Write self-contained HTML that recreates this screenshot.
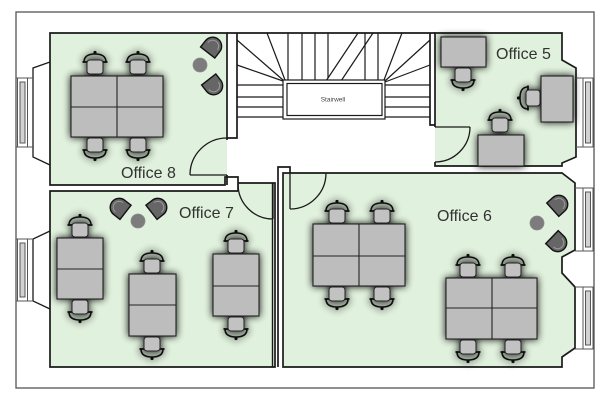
<!DOCTYPE html>
<html>
<head>
<meta charset="utf-8">
<style>
html,body{margin:0;padding:0;background:#fff;}
svg{display:block;}
text{font-family:"Liberation Sans",Arial,sans-serif;}
</style>
</head>
<body>
<svg width="614" height="400" viewBox="0 0 614 400" xmlns="http://www.w3.org/2000/svg">
<defs>
<filter id="sh" x="-40%" y="-40%" width="180%" height="180%">
<feGaussianBlur in="SourceAlpha" stdDeviation="4"/>
<feComponentTransfer><feFuncA type="linear" slope="0.95"/></feComponentTransfer>
<feMerge><feMergeNode/><feMergeNode in="SourceGraphic"/></feMerge>
</filter>
<g id="ch">
<path d="M-11,-3 Q-11,-11 0,-11 Q11,-11 11,-3" fill="none" stroke="#111" stroke-width="1.6"/>
<line x1="-12.5" y1="-3" x2="-8" y2="-3" stroke="#111" stroke-width="1.8"/>
<line x1="8" y1="-3" x2="12.5" y2="-3" stroke="#111" stroke-width="1.8"/>
<circle cx="0" cy="-12.5" r="1.6" fill="#111"/>
<rect x="-8" y="-5" width="16" height="14" rx="3" fill="#c2c2c2" stroke="#222" stroke-width="1"/>
</g>
<g id="lc">
<path d="M-9,7 L-9,-1 A9,9 0 0 1 9,-1 L9,7 Z" fill="#666" stroke="#111" stroke-width="1.4"/>
<path d="M-6,-1 A6,6 0 0 1 6,-1" fill="none" stroke="#9a9a9a" stroke-width="1"/>
</g>
</defs>

<!-- outer building -->
<rect x="16" y="12" width="578" height="376" fill="#fff" stroke="#555" stroke-width="1.3"/>

<!-- room fills -->
<g fill="#e0f1dd" stroke="none">
<rect x="50" y="33" width="177" height="152"/>
<polygon points="50,191 238,191 238,183 275,183 275,367 50,367"/>
<polygon points="435,33 562,33 562,60 576,68 576,157 562,163 562,166 435,166"/>
<polygon points="283,367 283,173 562,173 575,183 575,250 562,257 562,273 575,287 575,348 562,357 562,367"/>
</g>

<!-- walls -->
<g fill="none" stroke="#1a1a1a" stroke-width="1.7" stroke-linejoin="miter">
<path d="M227,140 V33 H50 V185 H225 V177 H238 V191"/>
<path d="M227,175 V185"/>
<path d="M227,33 H435"/>
<path d="M237,33 V138 H227"/>
<path d="M430,33 V125 H435"/>
<path d="M435,127 V33 H562 V60 L576,68 V157 L562,163 V166 H435 V162"/>
<path d="M238,191 H50 V367 H275 V183 H238"/>
<path d="M272.5,183 V367" stroke-width="1.4"/>
<path d="M278,367 V167 H290 V173"/>
<path d="M283,367 V173 H562 L575,183 V250 L562,257 V273 L575,287 V348 L562,357 V367 Z"/>
<path d="M50,62 L33,68 V157 L50,165" stroke-width="1.3"/>
<path d="M50,231 L33,239 V301 L50,309" stroke-width="1.3"/>
</g>

<!-- windows -->
<g stroke="#555" stroke-width="1">
<line x1="16" y1="78" x2="33" y2="78"/><line x1="16" y1="147" x2="33" y2="147"/>
<line x1="16" y1="239" x2="33" y2="239"/><line x1="16" y1="301" x2="33" y2="301"/>
<line x1="576" y1="78" x2="594" y2="78"/><line x1="576" y1="147" x2="594" y2="147"/>
<line x1="575" y1="188" x2="594" y2="188"/><line x1="575" y1="251" x2="594" y2="251"/>
<line x1="575" y1="287" x2="594" y2="287"/><line x1="575" y1="349" x2="594" y2="349"/>
<g fill="#fff">
<rect x="17.5" y="78" width="10" height="69"/>
<rect x="17.5" y="239" width="10" height="62"/>
<rect x="583" y="78" width="10" height="69"/>
<rect x="583" y="188" width="10" height="63"/>
<rect x="583" y="287" width="10" height="62"/>
</g>
<g fill="#d2d2d2">
<rect x="20" y="82" width="5" height="61"/>
<rect x="20" y="243" width="5" height="54"/>
<rect x="585.5" y="82" width="5" height="61"/>
<rect x="585.5" y="192" width="5" height="55"/>
<rect x="585.5" y="291" width="5" height="54"/>
</g>
</g>

<!-- doors -->
<g fill="none" stroke="#1a1a1a" stroke-width="1.3">
<path d="M227,175 H190"/><path d="M190,175 A37,37 0 0 1 227,138"/>
<path d="M273,184 V219"/><path d="M238,184 A35,35 0 0 0 273,219"/>
<path d="M435,127 H470"/><path d="M470,127 A35,35 0 0 1 435,162"/>
<path d="M290,173 V209"/><path d="M290,209 A36,36 0 0 0 326,173"/>
</g>

<!-- stairwell -->
<g fill="none" stroke="#1a1a1a" stroke-width="1.2">
<line x1="237" y1="85" x2="283" y2="85"/>
<line x1="237" y1="97" x2="283" y2="97"/>
<line x1="237" y1="107" x2="283" y2="107"/>
<line x1="237" y1="117" x2="283" y2="117"/>
<line x1="385" y1="85" x2="430" y2="85"/>
<line x1="385" y1="97" x2="430" y2="97"/>
<line x1="385" y1="107" x2="430" y2="107"/>
<line x1="385" y1="117" x2="430" y2="117"/>
<line x1="237" y1="40" x2="283" y2="80"/>
<line x1="237" y1="65" x2="283" y2="81"/>
<line x1="267" y1="33" x2="285" y2="80"/>
<line x1="288" y1="33" x2="288" y2="80"/>
<line x1="302" y1="33" x2="302" y2="80"/>
<line x1="315" y1="33" x2="315" y2="80"/>
<line x1="328" y1="33" x2="328" y2="78"/>
<line x1="358" y1="33" x2="326" y2="81"/>
<line x1="373" y1="33" x2="339" y2="84"/>
<line x1="365" y1="33" x2="365" y2="80"/>
<line x1="378" y1="33" x2="378" y2="80"/>
<line x1="402" y1="33" x2="384" y2="80"/>
<line x1="430" y1="40" x2="385" y2="81"/>
<line x1="430" y1="65" x2="385" y2="82"/>
<rect x="283" y="80" width="102" height="39" fill="#fff"/>
<rect x="287" y="83.5" width="95" height="32"/>
</g>
<text x="333" y="101.5" font-size="6.5" fill="#444" text-anchor="middle">Stairwell</text>

<!-- lounge chairs and tables -->
<g>
<circle cx="200" cy="65" r="7" fill="#7c7c7c" stroke="#8a8a8a" stroke-width="0.8"/>
<use href="#lc" transform="translate(212,47) rotate(38)"/>
<use href="#lc" transform="translate(213,85) rotate(142)"/>
<circle cx="138" cy="221" r="7" fill="#7c7c7c" stroke="#8a8a8a" stroke-width="0.8"/>
<use href="#lc" transform="translate(120,208) rotate(-52)"/>
<use href="#lc" transform="translate(157,208) rotate(52)"/>
<circle cx="537" cy="223" r="7" fill="#7c7c7c" stroke="#8a8a8a" stroke-width="0.8"/>
<use href="#lc" transform="translate(558,205) rotate(48)"/>
<use href="#lc" transform="translate(557,242) rotate(134)"/>
</g>

<!-- desks and chairs with shadow -->
<g filter="url(#sh)">
<use href="#ch" transform="translate(95,65)"/>
<use href="#ch" transform="translate(138,65)"/>
<use href="#ch" transform="translate(95,147) rotate(180)"/>
<use href="#ch" transform="translate(138,147) rotate(180)"/>
<use href="#ch" transform="translate(463,77) rotate(180)"/>
<use href="#ch" transform="translate(531,98) rotate(-90)"/>
<use href="#ch" transform="translate(500,123)"/>
<use href="#ch" transform="translate(80,228)"/>
<use href="#ch" transform="translate(80,309) rotate(180)"/>
<use href="#ch" transform="translate(152,264)"/>
<use href="#ch" transform="translate(152,346) rotate(180)"/>
<use href="#ch" transform="translate(236,244)"/>
<use href="#ch" transform="translate(236,326) rotate(180)"/>
<use href="#ch" transform="translate(337,214)"/>
<use href="#ch" transform="translate(382,214)"/>
<use href="#ch" transform="translate(337,296) rotate(180)"/>
<use href="#ch" transform="translate(382,296) rotate(180)"/>
<use href="#ch" transform="translate(468,268)"/>
<use href="#ch" transform="translate(513,268)"/>
<use href="#ch" transform="translate(468,349) rotate(180)"/>
<use href="#ch" transform="translate(513,349) rotate(180)"/>

<g fill="#bdbdbd" stroke="#222" stroke-width="1.1">
<rect x="71" y="76" width="92" height="61"/>
<rect x="441" y="37" width="45" height="30"/>
<rect x="541" y="76" width="32" height="46"/>
<rect x="478" y="135" width="46" height="31"/>
<rect x="57" y="238" width="46" height="61"/>
<rect x="129" y="274" width="47" height="62"/>
<rect x="213" y="254" width="46" height="62"/>
<rect x="313" y="224" width="92" height="62"/>
<rect x="446" y="278" width="91" height="61"/>
</g>
</g>
<g stroke="#222" stroke-width="1.1">
<line x1="117" y1="76" x2="117" y2="137"/><line x1="71" y1="107" x2="163" y2="107"/>
<line x1="57" y1="269" x2="103" y2="269"/>
<line x1="129" y1="305" x2="176" y2="305"/>
<line x1="213" y1="286" x2="259" y2="286"/>
<line x1="359" y1="224" x2="359" y2="286"/><line x1="313" y1="256" x2="405" y2="256"/>
<line x1="492" y1="278" x2="492" y2="339"/><line x1="446" y1="308" x2="537" y2="308"/>
</g>

<!-- labels -->
<g font-size="16" fill="#333">
<text x="121" y="178">Office 8</text>
<text x="496" y="59">Office 5</text>
<text x="179" y="218">Office 7</text>
<text x="437" y="221">Office 6</text>
</g>
</svg>
</body>
</html>
